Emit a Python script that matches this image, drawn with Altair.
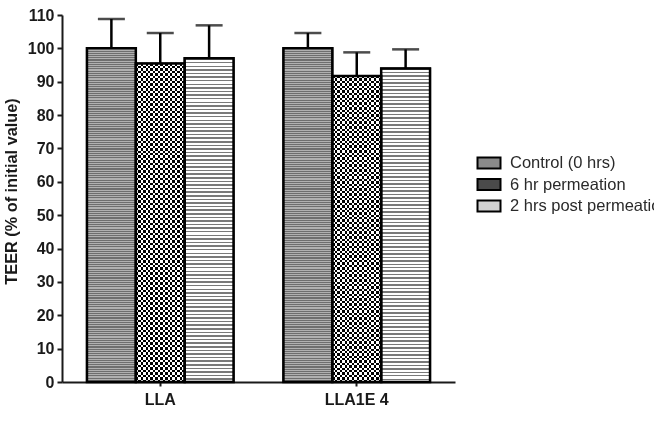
import altair as alt
import pandas as pd

groups = ["LLA", "LLA1E 4"]
series = ["Control (0 hrs)", "6 hr permeation", "2 hrs post permeation"]
mean_lla = [100.0, 95.5, 97.0]
mean_lla1e4 = [100.0, 91.7, 94.0]
sd_lla = [8.8, 9.1, 9.9]
sd_lla1e4 = [4.6, 7.1, 5.7]
y_ticks = [0, 10, 20, 30, 40, 50, 60, 70, 80, 90, 100, 110]

rows = []
for g, means, sds in [(groups[0], mean_lla, sd_lla), (groups[1], mean_lla1e4, sd_lla1e4)]:
    for s, m, e in zip(series, means, sds):
        rows.append({"group": g, "series": s, "value": m, "upper": m + e})
df = pd.DataFrame(rows)


def stripes(n, c1, c2, frac, vertical=True):
    stops = []
    for i in range(n):
        a = i / n
        b = (i + frac) / n
        c = (i + 1) / n
        stops += [alt.GradientStop(offset=a, color=c1), alt.GradientStop(offset=b, color=c1),
                  alt.GradientStop(offset=b, color=c2), alt.GradientStop(offset=c, color=c2)]
    if vertical:
        return alt.LinearGradient(gradient="linear", stops=stops, x1=0, x2=0, y1=0, y2=1)
    return alt.LinearGradient(gradient="linear", stops=stops, x1=0, x2=1, y1=0, y2=0)


FONT = "Liberation Sans"
TITLE = "TEER (% of initial value)"

x_enc = alt.X("group:N", sort=groups, title=None,
              scale=alt.Scale(paddingInner=0.254, paddingOuter=0.127),
              axis=alt.Axis(labelAngle=0, labelFont=FONT, labelFontSize=16, labelFontWeight="bold",
                            labelColor="#1a1a1a", tickSize=4, tickWidth=2, tickColor="#1a1a1a",
                            domainWidth=2, domainColor="#1a1a1a", labelPadding=5))
xo_enc = alt.XOffset("series:N", sort=series, scale=alt.Scale(domain=series, paddingInner=0, paddingOuter=0))
y_scale = alt.Scale(domain=[0, 110], nice=False)
y_axis = alt.Axis(values=y_ticks, tickCount=12, grid=False, labelOverlap=False,
                  labelFont=FONT, labelFontSize=16,
                  labelFontWeight="bold", labelColor="#1a1a1a", tickSize=5, tickWidth=2,
                  tickColor="#1a1a1a", domainWidth=2, domainColor="#1a1a1a", labelPadding=3,
                  titleFont=FONT, titleFontSize=16.3, titleFontWeight="bold", titleColor="#1a1a1a",
                  titlePadding=8, titleY=176)
y_enc = alt.Y("value:Q", title=TITLE, scale=y_scale, axis=y_axis)
y_up = alt.Y("upper:Q", title=TITLE, scale=y_scale, axis=y_axis)

base = alt.Chart(df)

bars = base.mark_bar(stroke="black", strokeWidth=2).encode(
    x=x_enc, xOffset=xo_enc, y=y_enc,
    color=alt.Color("series:N", sort=series,
                    scale=alt.Scale(domain=series, range=["#8a8a8a", "#4a4a4a", "#d2d2d2"]),
                    legend=alt.Legend(title=None, orient="none", legendX=416, legendY=137,
                                      labelFont=FONT, labelFontSize=16.5, labelColor="#2a2a2a",
                                      symbolType="M-1.15,-0.55L1.15,-0.55L1.15,0.55L-1.15,0.55Z",
                                      symbolSize=400,
                                      symbolStrokeColor="black", symbolStrokeWidth=2, symbolOpacity=1,
                                      labelOffset=10, rowPadding=0.5, padding=0, labelLimit=300)),
)

enc = dict(x=x_enc, xOffset=xo_enc, y=y_enc)

ctrl = base.transform_filter(alt.datum.series == series[0]).mark_bar(
    fill=stripes(150, "#6e6e6e", "#b0b0b0", 0.5), strokeWidth=0).encode(**enc)
chk_a = base.transform_filter(alt.datum.series == series[1]).mark_bar(
    fill=stripes(64, "#000000", "#ffffff", 0.5), strokeWidth=0).encode(**enc)
chk_b = base.transform_filter(alt.datum.series == series[1]).mark_bar(
    fill=stripes(10, "#000000", "#ffffff", 0.5, vertical=False), strokeWidth=0,
    blend="difference").encode(**enc)
hstr = base.transform_filter(alt.datum.series == series[2]).mark_bar(
    fill=stripes(90, "#7a7a7a", "#ffffff", 0.42), strokeWidth=0).encode(**enc)

outline = base.mark_bar(fillOpacity=0, stroke="black", strokeWidth=2.5).encode(**enc)

err = base.mark_rule(color="black", strokeWidth=2.5).encode(
    x=x_enc, xOffset=xo_enc, y=y_enc, y2="upper:Q")
cap = base.mark_tick(color="black", size=27, thickness=2.5, orient="horizontal").encode(
    x=x_enc, xOffset=xo_enc, y=y_up)

chart = alt.layer(bars, ctrl, chk_a, chk_b, hstr, outline, err, cap).properties(
    width=393, height=367,
    padding={"left": 62, "top": 15, "right": 199, "bottom": 46},
    autosize=alt.AutoSizeParams(type="none"),
    background="white",
).configure_view(stroke=None)

chart.save("out.html", embed_options={"renderer": "svg", "actions": False})
